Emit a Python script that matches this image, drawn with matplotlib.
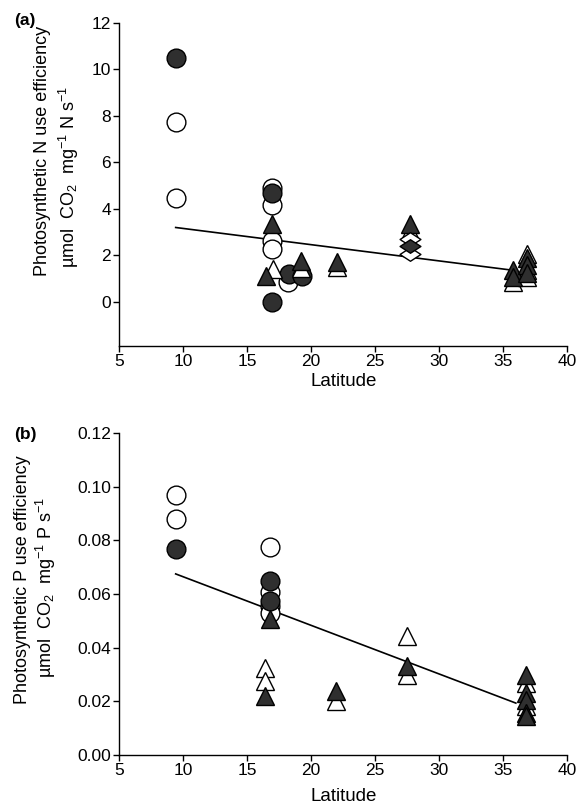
import matplotlib
matplotlib.use("Agg")
import matplotlib.pyplot as plt
import numpy as np
from matplotlib.path import Path

plt.rcParams['font.family'] = ['Liberation Sans', 'DejaVu Sans']
plt.rcParams['mathtext.fontset'] = 'custom'
plt.rcParams['mathtext.rm'] = 'Liberation Sans'
plt.rcParams['mathtext.it'] = 'Liberation Sans:italic'

# ---------------- Panel (a): photosynthetic N use efficiency ----------------
a_open_circle_x = [9.4, 9.4, 16.9, 16.9, 16.9, 16.9, 18.2]
a_open_circle_y = [7.75, 4.45, 4.9, 4.15, 2.63, 2.27, 0.84]
a_filled_circle_x = [9.4, 16.9, 16.9, 18.3, 19.3]
a_filled_circle_y = [10.5, 4.7, 0.0, 1.2, 1.13]
a_open_tri_x = [17.0, 19.2, 22.0, 27.7, 35.8, 36.9, 36.9, 36.9]
a_open_tri_y = [1.41, 1.45, 1.49, 3.05, 0.86, 2.05, 1.35, 1.05]
a_filled_tri_x = [16.9, 16.5, 19.2, 22.0, 27.7, 35.8, 35.8, 36.9, 36.9, 36.9]
a_filled_tri_y = [3.34, 1.13, 1.77, 1.70, 3.34, 1.37, 1.07, 1.9, 1.6, 1.25]
a_open_diamond_x = [27.7, 27.7]
a_open_diamond_y = [2.7, 2.06]
a_filled_diamond_x = [27.7]
a_filled_diamond_y = [2.41]
a_fit_slope, a_fit_intercept = -0.0698, 3.856
a_fit_range = [9.4, 35.8]

# ---------------- Panel (b): photosynthetic P use efficiency ----------------
b_open_circle_x = [9.4, 9.4, 16.8, 16.8, 16.8, 16.8]
b_open_circle_y = [0.0969, 0.0881, 0.0775, 0.0606, 0.0556, 0.0531]
b_filled_circle_x = [9.4, 16.8, 16.8]
b_filled_circle_y = [0.0766, 0.065, 0.0575]
b_open_tri_x = [16.4, 16.4, 21.9, 27.5, 27.5, 36.8, 36.8]
b_open_tri_y = [0.0325, 0.0275, 0.020, 0.0444, 0.030, 0.027, 0.0181]
b_filled_tri_x = [16.8, 16.4, 21.9, 27.5, 36.8, 36.8, 36.8, 36.8, 36.8]
b_filled_tri_y = [0.0506, 0.022, 0.0237, 0.0331, 0.030, 0.0232, 0.0206, 0.0157, 0.0144]
b_fit_slope, b_fit_intercept = -0.00181, 0.0845
b_fit_range = [9.4, 36.0]

x_ticks = [5, 10, 15, 20, 25, 30, 35, 40]
a_yticks = [0, 2, 4, 6, 8, 10, 12]
b_yticks = [0.00, 0.02, 0.04, 0.06, 0.08, 0.10, 0.12]

FILL = '#2f2f2f'
MS = 13.5
diamond = Path([(-1, 0), (0, 0.65), (1, 0), (0, -0.65), (-1, 0)],
               [Path.MOVETO, Path.LINETO, Path.LINETO, Path.LINETO, Path.CLOSEPOLY])

W, H = 581, 808
fig = plt.figure(figsize=(W / 100, H / 100), dpi=100)

def axes_px(left, top, right, bottom):
    return fig.add_axes([left / W, 1 - bottom / H, (right - left) / W, (bottom - top) / H])

def style(ax):
    for s in ['top', 'right']:
        ax.spines[s].set_visible(False)
    for s in ['left', 'bottom']:
        ax.spines[s].set_linewidth(1.0)
    ax.tick_params(direction='out', length=4, width=1, labelsize=12.5, pad=2)
    ax.set_xlim(5, 40)
    ax.set_xticks(x_ticks)

def pts(ax, x, y, marker, filled, ms=MS):
    ax.plot(x, y, linestyle='none', marker=marker, markersize=ms,
            markerfacecolor=FILL if filled else 'white',
            markeredgecolor='black', markeredgewidth=1.0, zorder=3)

# Panel a
ax1 = axes_px(119.4, 23, 567, 346)
style(ax1)
xf = np.array(a_fit_range)
ax1.plot(xf, a_fit_slope * xf + a_fit_intercept, color='black', lw=1.2, zorder=2)
pts(ax1, a_open_circle_x, a_open_circle_y, 'o', False)
pts(ax1, a_filled_circle_x, a_filled_circle_y, 'o', True)
pts(ax1, a_open_tri_x, a_open_tri_y, '^', False)
pts(ax1, a_filled_tri_x, a_filled_tri_y, '^', True)
pts(ax1, a_open_diamond_x, a_open_diamond_y, diamond, False, 15)
pts(ax1, a_filled_diamond_x, a_filled_diamond_y, diamond, True, 15)
ax1.set_ylim(-1.9, 12)
ax1.set_yticks(a_yticks)
ax1.set_yticklabels([str(v) for v in a_yticks])
ax1.set_xlabel('Latitude', fontsize=13.5, labelpad=2.5)

# Panel b
ax2 = axes_px(119.4, 433, 567, 755)
style(ax2)
xf = np.array(b_fit_range)
ax2.plot(xf, b_fit_slope * xf + b_fit_intercept, color='black', lw=1.2, zorder=2)
pts(ax2, b_open_circle_x, b_open_circle_y, 'o', False)
pts(ax2, b_filled_circle_x, b_filled_circle_y, 'o', True)
pts(ax2, b_open_tri_x, b_open_tri_y, '^', False)
pts(ax2, b_filled_tri_x, b_filled_tri_y, '^', True)
ax2.set_ylim(0, 0.12)
ax2.set_yticks(b_yticks)
ax2.set_yticklabels([f'{v:.2f}' for v in b_yticks])
ax2.set_xlabel('Latitude', fontsize=13.5, labelpad=7)

# y labels (two lines each)
def ftext(x, y, s, **kw):
    fig.text(x / W, 1 - y / H, s, **kw)

ftext(43, 151, 'Photosynthetic N use efficiency', rotation=90, ha='center', va='center', fontsize=13)
ftext(69, 177, r'µmol  CO$_2$  mg$^{-1}$ N s$^{-1}$', rotation=90, ha='center', va='center', fontsize=13)
ftext(23, 580, 'Photosynthetic P use efficiency', rotation=90, ha='center', va='center', fontsize=13)
ftext(46, 587, r'µmol  CO$_2$  mg$^{-1}$ P s$^{-1}$', rotation=90, ha='center', va='center', fontsize=13)

ftext(25, 21, '(a)', ha='center', va='center', fontsize=12.5, fontweight='bold')
ftext(25, 435, '(b)', ha='center', va='center', fontsize=12.5, fontweight='bold')

fig.savefig('out.png', dpi=100)
